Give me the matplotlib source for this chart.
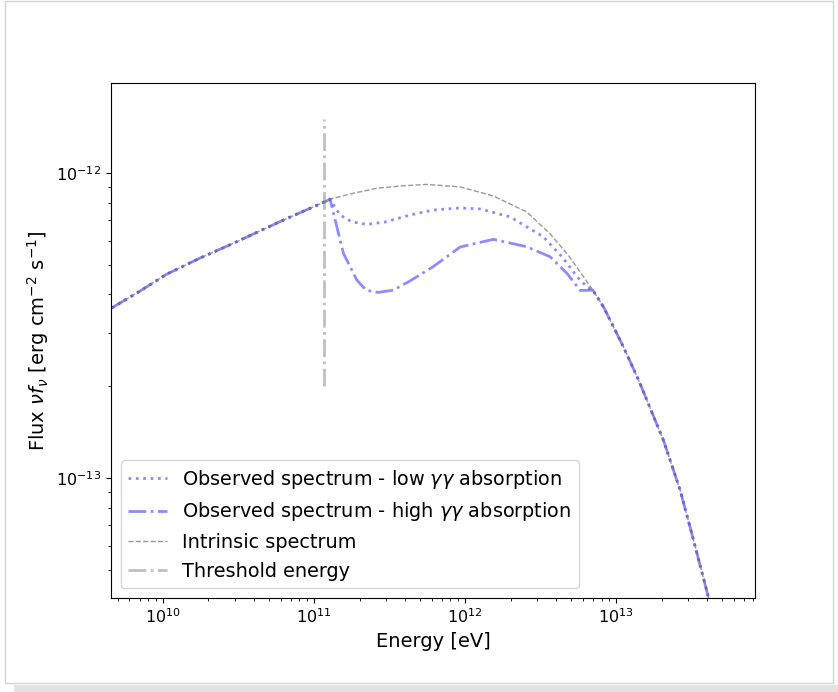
import numpy as np
import matplotlib
matplotlib.use('Agg')
import matplotlib.pyplot as plt
from matplotlib.patches import Rectangle

# common low-energy part (all spectra coincide)
E_low = [4.57e9, 7.04e9, 1.058e10, 1.758e10, 2.92e10, 6.27e10, 1.183e11, 1.276e11]
F_low = [3.61e-13, 4.10e-13, 4.66e-13, 5.26e-13, 5.88e-13, 7.01e-13, 8.05e-13, 8.20e-13]

# common high-energy tail
E_tail = [7.01e12, 8.24e12, 9.60e12, 1.117e13, 1.405e13, 1.597e13, 2.056e13,
          2.65e13, 3.25e13, 4.08e13, 4.33e13]
F_tail = [4.13e-13, 3.64e-13, 3.13e-13, 2.69e-13, 2.10e-13, 1.80e-13, 1.33e-13,
          9.14e-14, 6.27e-14, 4.07e-14, 3.56e-14]

# intrinsic spectrum, middle part
E_int = [1.73e11, 2.60e11, 3.71e11, 5.57e11, 9.27e11, 1.532e12, 2.56e12,
         3.66e12, 4.81e12, 5.96e12]
F_int = [8.53e-13, 8.91e-13, 9.06e-13, 9.17e-13, 9.00e-13, 8.41e-13, 7.45e-13,
         6.31e-13, 5.38e-13, 4.63e-13]

# observed - low gamma-gamma absorption
E_lo = [1.486e11, 1.785e11, 2.244e11, 2.95e11, 4.32e11, 6.14e11, 9.27e11,
        1.257e12, 1.986e12, 3.29e12, 4.46e12, 5.52e12, 6.43e12]
F_lo = [7.28e-13, 6.91e-13, 6.78e-13, 6.91e-13, 7.28e-13, 7.56e-13, 7.68e-13,
        7.62e-13, 7.18e-13, 6.18e-13, 5.26e-13, 4.56e-13, 4.23e-13]

# observed - high gamma-gamma absorption
E_hi = [1.563e11, 1.918e11, 2.21e11, 2.65e11, 3.35e11, 4.32e11, 6.14e11,
        9.27e11, 1.539e12, 2.56e12, 3.66e12, 4.72e12, 5.78e12]
F_hi = [5.46e-13, 4.46e-13, 4.13e-13, 4.06e-13, 4.13e-13, 4.43e-13, 4.93e-13,
        5.72e-13, 6.06e-13, 5.73e-13, 5.31e-13, 4.69e-13, 4.12e-13]

E_thr = 1.16e11
thr_range = [2.0e-13, 1.5e-12]

fig = plt.figure(figsize=(8.38, 6.92), dpi=100)
ax = fig.add_axes([0.1325, 0.1358, 0.7685, 0.7442])

ax.plot(E_low + E_lo + E_tail, F_low + F_lo + F_tail, ':', color='blue', alpha=0.45,
        lw=2, label=r'Observed spectrum - low $\gamma\gamma$ absorption')
ax.plot(E_low + E_hi + E_tail, F_low + F_hi + F_tail, '-.', color='blue', alpha=0.45,
        lw=2, label=r'Observed spectrum - high $\gamma\gamma$ absorption')
ax.plot(E_low + E_int + E_tail, F_low + F_int + F_tail, '--', color='gray', alpha=0.8,
        lw=1, label='Intrinsic spectrum')
ax.vlines(E_thr, thr_range[0], thr_range[1], colors='gray', linestyles='-.',
          alpha=0.5, lw=2, label='Threshold energy')

ax.set_xscale('log')
ax.set_yscale('log')
ax.set_xlim(4.53e9, 8.3e13)
ax.set_ylim(4.05e-14, 1.97e-12)
ax.set_xlabel('Energy [eV]', fontsize=14)
ax.set_ylabel(r'Flux $\nu f_\nu$ [erg cm$^{-2}$ s$^{-1}$]', fontsize=14)
ax.tick_params(labelsize=11.5)
ax.legend(loc='lower left', fontsize=13.85)

# screenshot frame
W, H = 838, 692
fig.patches.append(Rectangle((5 / W, 1 - 683 / H), 828 / W, 682 / H,
                             transform=fig.transFigure, fill=False,
                             edgecolor='#d4d4d4', lw=1))
fig.patches.append(Rectangle((14 / W, 0), 824 / W, 7 / H,
                             transform=fig.transFigure, facecolor='#e2e2e2',
                             edgecolor='none'))

fig.savefig('out.png')
plt.close(fig)
